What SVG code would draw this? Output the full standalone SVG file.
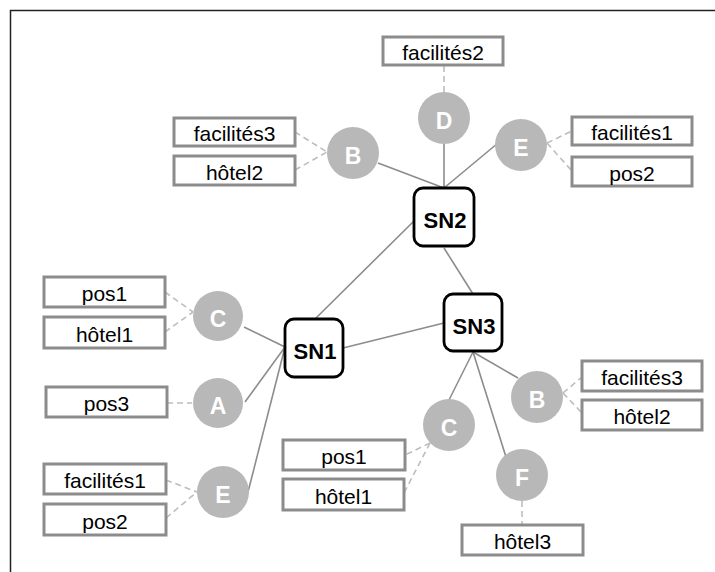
<svg xmlns="http://www.w3.org/2000/svg" width="715" height="572" viewBox="0 0 715 572">
<style>
.frame{fill:none;stroke:#222;stroke-width:1.5}
.box{fill:#fff;stroke:#8c8c8c;stroke-width:3}
.sn{fill:#fff;stroke:#000;stroke-width:2.8}
.cir{fill:#b8b8b8}
.solid{stroke:#8c8c8c;stroke-width:1.6;fill:none}
.dash{stroke:#bdbdbd;stroke-width:1.6;stroke-dasharray:6 4;fill:none}
.lbl{font-family:"Liberation Sans",Arial,sans-serif;font-size:21px;fill:#000;text-anchor:middle}
.snl{font-family:"Liberation Sans",Arial,sans-serif;font-size:22px;font-weight:bold;fill:#000;text-anchor:middle}
.cl{font-family:"Liberation Sans",Arial,sans-serif;font-size:23px;font-weight:bold;fill:#fff;text-anchor:middle}
</style>
<rect width="715" height="572" fill="#fff"/>
<path class="frame" d="M10.5,572 V10.5 H715"/>
<g id="connectors">
<line class="solid" x1="444" y1="188" x2="378" y2="163"/>
<line class="solid" x1="444" y1="188" x2="444" y2="144"/>
<line class="solid" x1="444" y1="188" x2="498" y2="143"/>
<line class="solid" x1="414" y1="221" x2="315" y2="319"/>
<line class="solid" x1="444" y1="248" x2="473" y2="294"/>
<line class="solid" x1="343" y1="348" x2="444" y2="323"/>
<line class="solid" x1="285" y1="347" x2="244" y2="327"/>
<line class="solid" x1="285" y1="347" x2="245" y2="402"/>
<line class="solid" x1="285" y1="347" x2="248" y2="492"/>
<line class="solid" x1="473" y1="352" x2="518" y2="378"/>
<line class="solid" x1="473" y1="352" x2="449" y2="400"/>
<line class="solid" x1="473" y1="352" x2="506" y2="457"/>
<line class="dash" x1="444" y1="66" x2="444" y2="92"/>
<line class="dash" x1="295" y1="132" x2="327" y2="152"/>
<line class="dash" x1="295" y1="170" x2="327" y2="152"/>
<line class="dash" x1="547" y1="143" x2="572" y2="131"/>
<line class="dash" x1="547" y1="143" x2="572" y2="171"/>
<line class="dash" x1="165" y1="292" x2="193" y2="312"/>
<line class="dash" x1="165" y1="332" x2="193" y2="312"/>
<line class="dash" x1="167" y1="403" x2="192" y2="403"/>
<line class="dash" x1="166" y1="480" x2="197" y2="492"/>
<line class="dash" x1="166" y1="518" x2="197" y2="492"/>
<line class="dash" x1="563" y1="393" x2="582" y2="377"/>
<line class="dash" x1="563" y1="393" x2="582" y2="413"/>
<line class="dash" x1="430" y1="443" x2="405" y2="455"/>
<line class="dash" x1="430" y1="443" x2="404" y2="493"/>
<line class="dash" x1="522" y1="501" x2="522" y2="525"/>
</g>
<g id="SN2"><rect class="sn" x="414" y="188" width="60" height="58" rx="9"/><text class="snl" x="445" y="228">SN2</text></g>
<g id="SN3"><rect class="sn" x="444" y="294" width="58" height="57" rx="9"/><text class="snl" x="474" y="334">SN3</text></g>
<g id="SN1"><rect class="sn" x="285" y="319" width="58" height="58" rx="9"/><text class="snl" x="315" y="359">SN1</text></g>
<g id="D_top"><circle class="cir" cx="444" cy="118" r="26"/><text class="cl" x="444" y="129">D</text></g>
<g id="B_top"><circle class="cir" cx="353" cy="153" r="26"/><text class="cl" x="353" y="164">B</text></g>
<g id="E_top"><circle class="cir" cx="521" cy="145" r="26"/><text class="cl" x="521" y="156">E</text></g>
<g id="C_left"><circle class="cir" cx="218" cy="316" r="25"/><text class="cl" x="218" y="327">C</text></g>
<g id="A_left"><circle class="cir" cx="218" cy="403" r="25"/><text class="cl" x="218" y="414">A</text></g>
<g id="E_left"><circle class="cir" cx="223" cy="492" r="26"/><text class="cl" x="223" y="503">E</text></g>
<g id="B_right"><circle class="cir" cx="537" cy="397" r="26"/><text class="cl" x="537" y="408">B</text></g>
<g id="C_bottom"><circle class="cir" cx="449" cy="425" r="26"/><text class="cl" x="449" y="436">C</text></g>
<g id="F_bottom"><circle class="cir" cx="522" cy="475" r="26"/><text class="cl" x="522" y="486">F</text></g>
<g id="box_facilites2"><rect class="box" x="383" y="37" width="120" height="28"/><text class="lbl" x="443" y="60">facilités2</text></g>
<g id="box_facilites3_top"><rect class="box" x="174" y="118" width="121" height="28"/><text class="lbl" x="234.5" y="141">facilités3</text></g>
<g id="box_hotel2_top"><rect class="box" x="174" y="156" width="121" height="29"/><text class="lbl" x="234.5" y="180">hôtel2</text></g>
<g id="box_facilites1_top"><rect class="box" x="572" y="117" width="120" height="28"/><text class="lbl" x="632" y="140">facilités1</text></g>
<g id="box_pos2_top"><rect class="box" x="572" y="157" width="120" height="29"/><text class="lbl" x="632" y="181">pos2</text></g>
<g id="box_pos1_left"><rect class="box" x="44" y="277" width="121" height="30"/><text class="lbl" x="104.5" y="301">pos1</text></g>
<g id="box_hotel1_left"><rect class="box" x="44" y="317" width="121" height="31"/><text class="lbl" x="104.5" y="342">hôtel1</text></g>
<g id="box_pos3"><rect class="box" x="46" y="387" width="121" height="30"/><text class="lbl" x="106.5" y="411">pos3</text></g>
<g id="box_facilites1_left"><rect class="box" x="44" y="464" width="122" height="30"/><text class="lbl" x="105" y="488">facilités1</text></g>
<g id="box_pos2_left"><rect class="box" x="44" y="504" width="122" height="31"/><text class="lbl" x="105" y="529">pos2</text></g>
<g id="box_facilites3_right"><rect class="box" x="582" y="361" width="120" height="30"/><text class="lbl" x="642" y="385">facilités3</text></g>
<g id="box_hotel2_right"><rect class="box" x="582" y="400" width="120" height="30"/><text class="lbl" x="642" y="424">hôtel2</text></g>
<g id="box_pos1_bottom"><rect class="box" x="283" y="440" width="122" height="30"/><text class="lbl" x="344" y="464">pos1</text></g>
<g id="box_hotel1_bottom"><rect class="box" x="283" y="479" width="121" height="31"/><text class="lbl" x="343.5" y="504">hôtel1</text></g>
<g id="box_hotel3"><rect class="box" x="462" y="525" width="121" height="30"/><text class="lbl" x="522.5" y="549">hôtel3</text></g>
</svg>
